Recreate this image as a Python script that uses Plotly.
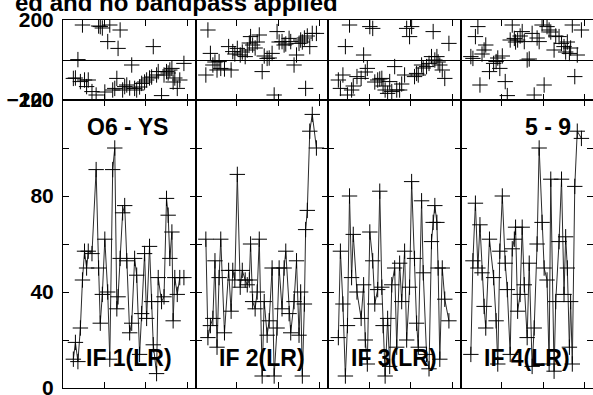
"""Amplitude and phase vs time, baseline O6 - YS, 4 IFs (LR)."""
import plotly.graph_objects as go
from plotly.subplots import make_subplots

# time in hours, shared by all IFs
times = [0.25, 0.30, 0.36, 0.42, 0.47, 0.52, 0.57, 0.61, 0.70, 0.80,
         0.86, 0.90, 0.95, 1.01, 1.08, 1.13, 1.20, 1.25, 1.30, 1.33,
         1.38, 1.44, 1.49, 1.54, 1.61, 1.66, 1.73, 1.78, 1.85, 1.90,
         1.97, 2.02, 2.09, 2.14, 2.18, 2.26, 2.30, 2.38, 2.44, 2.50,
         2.54, 2.58, 2.63, 2.66, 2.70, 2.76, 2.82, 2.92]

amp_if1 = [12, 19, 11, 25, 45, 57, 50, 57, 56, 91, 50, 27, 39, 62, 40, 12,
           91, 100, 33, 38, 54, 73, 76, 53, 23, 27, 54, 47, 14, 31, 56, 29,
           59, 36, 18, 6, 46, 36, 38, 79, 72, 54, 65, 28, 46, 39, 46, 46]
amp_if2 = [62, 21, 26, 29, 53, 17, 46, 62, 23, 49, 32, 49, 45, 89, 42, 49,
           45, 43, 45, 60, 36, 33, 40, 62, 5, 36, 22, 28, 50, 5, 25, 50,
           33, 50, 57, 31, 23, 36, 53, 22, 40, 5, 35, 66, 74, 107, 114, 100]
amp_if3 = [21, 57, 35, 5, 26, 80, 46, 64, 40, 29, 43, 20, 10, 65, 53, 35,
           41, 82, 42, 26, 5, 29, 9, 43, 50, 17, 52, 36, 57, 20, 42, 86,
           54, 27, 17, 78, 48, 14, 8, 61, 69, 76, 69, 50, 12, 50, 37, 28]
amp_if4 = [14, 53, 77, 50, 68, 48, 34, 25, 62, 46, 28, 10, 57, 80, 52, 41,
           14, 58, 62, 67, 32, 39, 67, 43, 21, 52, 9, 25, 60, 100, 69, 50,
           45, 10, 87, 7, 36, 61, 87, 39, 63, 50, 17, 36, 10, 84, 107, 104]

phase_if1 = [-92, -90, 2, -108, 175, -100, -133, -100, -158, -175,
             170, 167, 160, -160, 92, 175, -150, -142, -92, 58,
             150, -150, -133, -125, -140, -25, -142, -150, -135, -117,
             -110, -100, -90, -85, 67, -75, -58, -178, -75, -58,
             -65, -50, -42, -110, -90, -142, -100, -17]
phase_if2 = [-75, 150, 33, -25, -10, -50, -8, -42, -45, 67,
             -50, 42, 30, 58, 25, 40, 17, 50, 85, 117,
             75, 60, 90, 125, -58, 20, 8, 10, 33, -175,
             142, 90, 92, 75, 80, 108, 92, -25, 25, 83,
             100, 90, 110, -142, 120, 67, 133, 133]
phase_if3 = [-100, -142, -75, 67, -175, 175, -150, -130, -83, -92,
             25, -60, -42, 167, 158, -110, -100, -95, -92, -130,
             -150, -167, -108, -158, -33, -150, -150, -120, -75, 158,
             117, 167, -83, -67, -75, -25, -40, -33, -17, 17,
             142, 0, 17, -10, -25, -50, -92, 83]
phase_if4 = [17, 8, 117, 167, -125, 30, 50, 75, -58, -17,
             -8, 10, -42, 20, -108, -178, 100, 175, 108, 90,
             100, 120, 142, 92, 0, 5, 133, -175, 110, 92,
             175, -125, 167, 150, 140, 50, 120, 117, 83, 67,
             40, 90, 33, 60, 175, -83, 25, 150]

if_labels = ["IF 1(LR)", "IF 2(LR)", "IF 3(LR)", "IF 4(LR)"]
amp_ticks = [0, 20, 40, 60, 80, 100, 120]
amp_ticktext = ["0", "", "40", "", "80", "", "120"]
phase_ticks = [-200, 200]
time_ticks = [1, 2, 3]

FONT = "Liberation Sans"


def main():
    amps = [amp_if1, amp_if2, amp_if3, amp_if4]
    phases = [phase_if1, phase_if2, phase_if3, phase_if4]

    fig = make_subplots(
        rows=2, cols=4,
        row_heights=[80 / 368, 288 / 368],
        horizontal_spacing=0, vertical_spacing=0,
    )
    for i in range(4):
        fig.add_trace(
            go.Scatter(
                x=times, y=phases[i], mode="markers",
                marker=dict(symbol="cross-thin", size=11,
                            line=dict(color="black", width=1)),
                showlegend=False,
            ),
            row=1, col=i + 1,
        )
        fig.add_trace(
            go.Scatter(
                x=times, y=amps[i], mode="lines+markers",
                line=dict(color="#2a2a2a", width=1),
                marker=dict(symbol="cross-thin", size=11,
                            line=dict(color="black", width=1)),
                showlegend=False,
            ),
            row=2, col=i + 1,
        )

    axis_common = dict(
        showline=True, linecolor="black", linewidth=1, mirror="ticks",
        ticks="inside", ticklen=6, tickcolor="black", showgrid=False,
        automargin=False,
    )
    fig.update_xaxes(range=[0, 3.2], tickvals=time_ticks,
                     showticklabels=False, zeroline=False, **axis_common)
    fig.update_yaxes(range=[-200, 200], tickvals=phase_ticks, row=1,
                     zeroline=True, zerolinecolor="black", zerolinewidth=1,
                     **axis_common)
    fig.update_yaxes(range=[0, 120], tickvals=amp_ticks, ticktext=amp_ticktext,
                     row=2, zeroline=False, **axis_common)
    fig.update_yaxes(showticklabels=False)
    fig.update_yaxes(showticklabels=True, col=1, ticklabelstandoff=4,
                     ticklabeloverflow="allow",
                     tickfont=dict(family=FONT, size=21, weight="bold",
                                   color="black"))

    label_font = dict(family=FONT, size=23, weight="bold", color="black")
    for i, lab in enumerate(if_labels):
        fig.add_annotation(x=0.5, y=0.104, xref=f"x{i + 5} domain",
                           yref=f"y{i + 5} domain", xanchor="center",
                           yanchor="middle", text=lab, showarrow=False,
                           font=label_font)
    fig.add_annotation(x=0.49, y=0.905, xref="x5 domain", yref="y5 domain",
                       xanchor="center", yanchor="middle",
                       text="O6 - YS", showarrow=False, font=label_font)
    fig.add_annotation(x=0.66, y=0.905, xref="x8 domain", yref="y8 domain",
                       xanchor="center", yanchor="middle",
                       text="5 - 9", showarrow=False, font=label_font)

    # plot title, left part runs off the page as in the original
    fig.add_annotation(x=(340 - 63) / 530, y=(388 - 3) / 368, xref="paper",
                       yref="paper", xanchor="right", yanchor="middle",
                       text="ed and no bandpass applied", showarrow=False,
                       font=dict(family=FONT, size=24, weight="bold",
                                 color="black"))

    fig.update_layout(
        width=593, height=395,
        margin=dict(l=63, r=0, t=20, b=7),
        paper_bgcolor="white", plot_bgcolor="white",
    )
    fig.write_html("out.html", config={"displayModeBar": False},
                   post_script="document.body.style.margin = '0px';")


if __name__ == "__main__":
    main()
